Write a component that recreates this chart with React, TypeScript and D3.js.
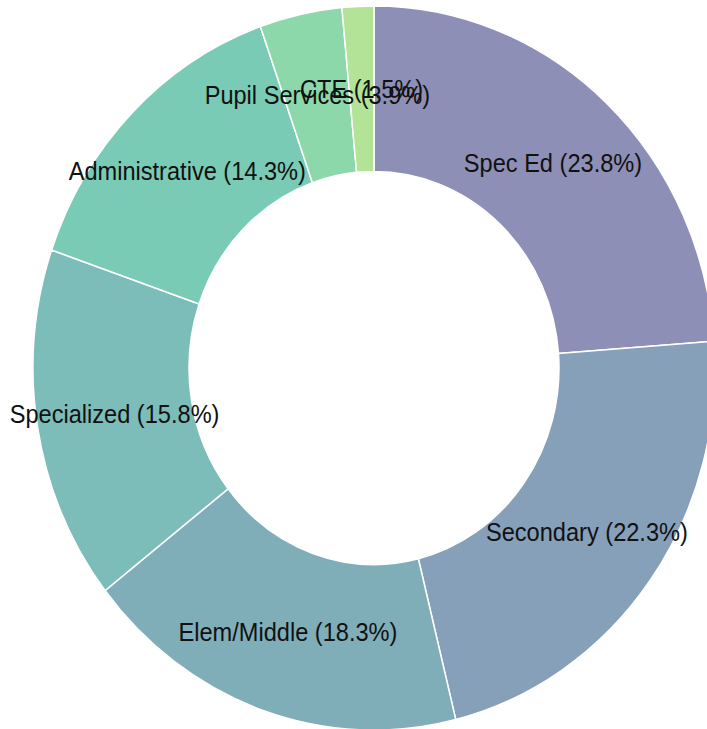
import { useEffect, useRef } from "react";
import * as d3 from "d3";

const categories = [
  "Spec Ed",
  "Secondary",
  "Elem/Middle",
  "Specialized",
  "Administrative",
  "Pupil Services",
  "CTE",
];
const shares = [23.8, 22.3, 18.3, 15.8, 14.3, 3.9, 1.5];
const colors = ["#8d8fb6", "#86a0ba", "#7faeb9", "#7cbcb9", "#7acbb5", "#8dd8aa", "#b2e396"];

interface Slice {
  name: string;
  value: number;
  color: string;
}

export default function App() {
  const ref = useRef<SVGSVGElement | null>(null);

  useEffect(() => {
    const data: Slice[] = categories.map((name, i) => ({ name, value: shares[i], color: colors[i] }));

    const width = 707;
    const height = 729;
    const cx = 374;
    const cy = 368;
    const outer = 341;
    const inner = 185;
    const stretch = 1.062; // the original is a bit taller than wide

    const svg = d3.select(ref.current).attr("width", width).attr("height", height);
    svg.selectAll("*").remove();

    const g = svg.append("g").attr("transform", `translate(${cx},${cy}) scale(1,${stretch})`);

    const pie = d3
      .pie<Slice>()
      .sort(null)
      .value((d) => d.value);
    const arc = d3.arc<d3.PieArcDatum<Slice>>().innerRadius(inner).outerRadius(outer);
    const arcs = pie(data);

    g.selectAll("path")
      .data(arcs)
      .enter()
      .append("path")
      .attr("d", arc)
      .attr("fill", (d) => d.data.color)
      .attr("stroke", "#fff")
      .attr("stroke-width", 1.5);

    g.selectAll("text")
      .data(arcs)
      .enter()
      .append("text")
      .attr("transform", (d) => `translate(${arc.centroid(d)})`)
      .attr("text-anchor", "middle")
      .attr("dy", "0.35em")
      .attr("font-family", "'Liberation Sans', Arial, sans-serif")
      .attr("font-size", 23.6)
      .attr("fill", "#111")
      .text((d) => `${d.data.name} (${d.data.value.toFixed(1)}%)`);
  }, []);

  return <svg ref={ref} style={{ position: "absolute", left: 0, top: 0 }} />;
}
